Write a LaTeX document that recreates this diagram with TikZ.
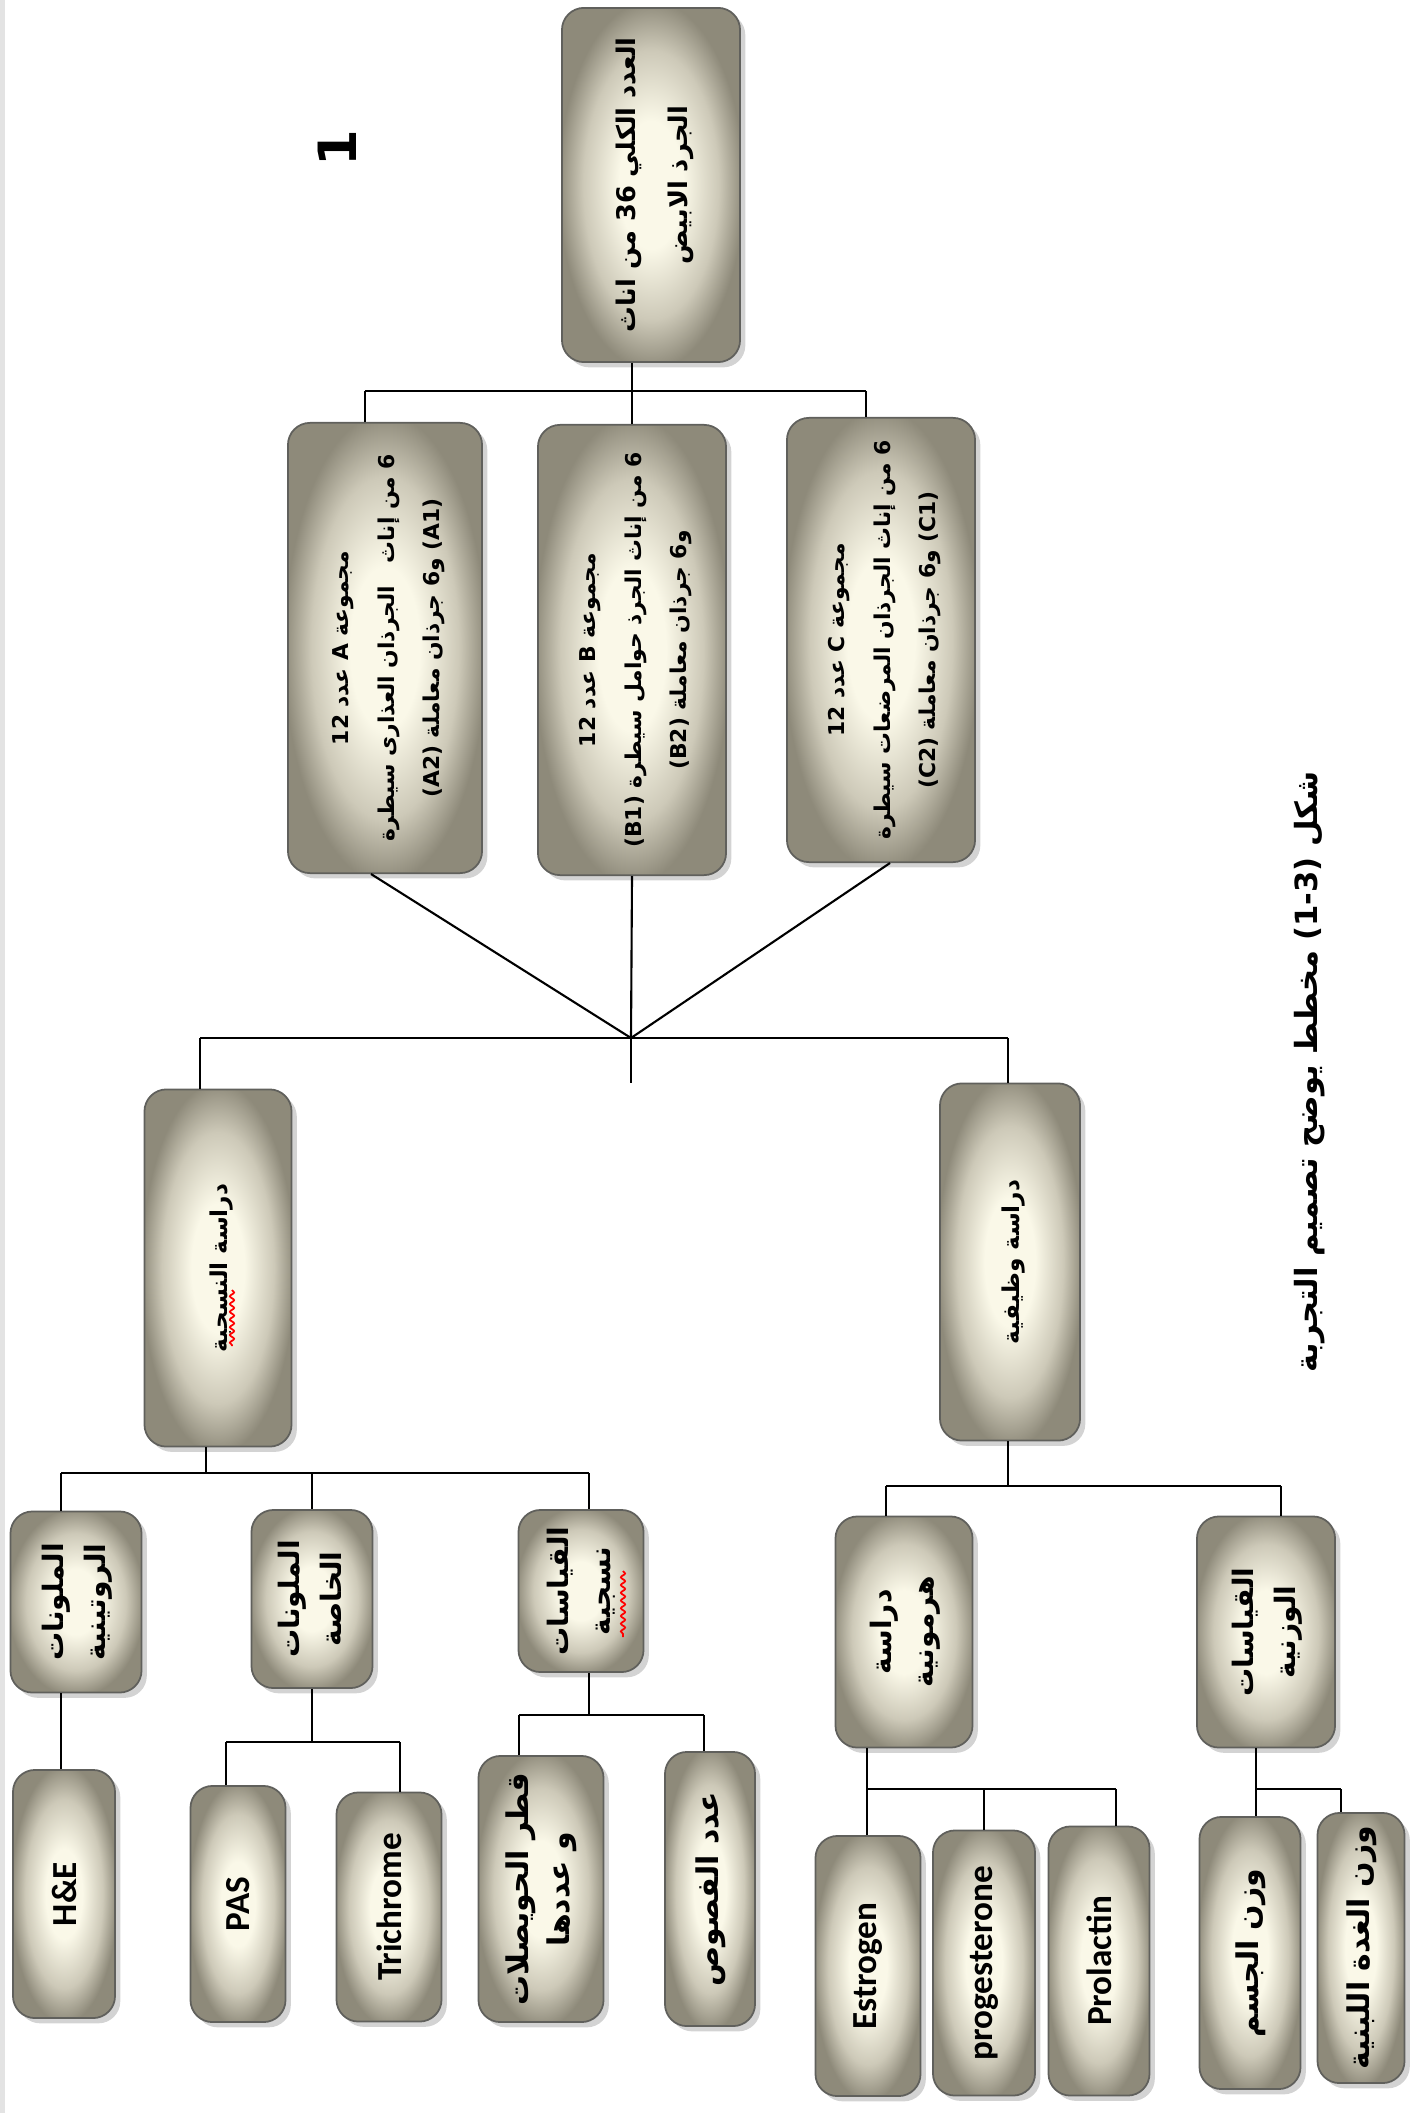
\documentclass[tikz,border=0pt]{standalone}
\usepackage{fontspec}
\usepackage{graphicx}
\setmainfont{Carlito}
\newfontfamily\arabicfont[Script=Arabic]{DejaVu Sans}
\newfontfamily\latinfont{DejaVu Sans}
\TeXXeTstate=1
\usetikzlibrary{positioning, shadows, calc, decorations.pathmorphing}

\definecolor{boxcream}{RGB}{250,248,232}
\definecolor{boxmid}{RGB}{205,201,184}
\definecolor{boxedge}{RGB}{142,138,122}
\definecolor{boxline}{RGB}{96,96,92}
\pgfdeclareradialshading{boxshade}{\pgfpoint{0bp}{0bp}}{color(0bp)=(boxcream); color(9bp)=(boxcream); color(19bp)=(boxmid); color(26bp)=(boxedge); color(50bp)=(boxedge)}

\newcommand{\ar}[1]{\beginR #1\endR}
\newcommand{\lat}[1]{\beginL{\latinfont #1}\endL}
\newcommand{\vtext}[1]{\rotatebox{90}{\begin{tabular}{@{}c@{}}#1\end{tabular}}}

\tikzset{
  block/.style={draw=boxline, line width=0.5pt, rounded corners=0.22cm, shade, shading=boxshade,
    drop shadow={shadow xshift=1.5pt, shadow yshift=-1.5pt, opacity=0.35}, inner sep=0pt},
  arroot/.style={font=\arabicfont\bfseries\fontsize{7.3}{15}\selectfont},
  argroup/.style={font=\arabicfont\bfseries\fontsize{6.2}{13}\selectfont},
  arstudy/.style={font=\arabicfont\bfseries\fontsize{6.6}{13}\selectfont},
  armid/.style={font=\arabicfont\bfseries\fontsize{8}{12}\selectfont},
  arleaf/.style={font=\arabicfont\bfseries\fontsize{8.5}{11.5}\selectfont},
  entext/.style={font=\bfseries\fontsize{10}{12}\selectfont},
  link/.style={line width=0.6pt},
  spell/.style={red, line width=0.5pt, decorate, decoration={snake, amplitude=0.6pt, segment length=2.2pt}}
}

\begin{document}
\begin{tikzpicture}[x=0.01cm, y=-0.01cm]
\useasboundingbox (0,0) rectangle (1422,2113);
\fill[gray!22] (0,0) rectangle (5,2113);

% root and groups
\node[block, arroot, minimum width=1.78cm, minimum height=3.54cm] (root) at (651,185) {\vtext{\ar{العدد الكلي 36 من اناث}\\ \ar{الجرذ الابيض}}};
\node[font=\latinfont\bfseries\fontsize{15}{15}\selectfont] (pgnum) at (337,148) {\rotatebox{90}{1}};

\node[block, argroup, minimum width=1.94cm, minimum height=4.5cm] (A) at (385,648) {\vtext{\ar{مجموعة A عدد 12}\\ \ar{6 من إناث\ \ \ الجرذان العذارى سيطرة}\\ \ar{\lat{(A1)} و6 جرذان معاملة \lat{(A2)}}}};
\node[block, argroup, minimum width=1.88cm, minimum height=4.5cm] (B) at (632,650) {\vtext{\ar{مجموعة B عدد 12}\\ \ar{6 من إناث الجرذ حوامل سيطرة \lat{(B1)}}\\ \ar{و6 جرذان معاملة \lat{(B2)}}}};
\node[block, argroup, minimum width=1.88cm, minimum height=4.44cm] (C) at (881,640) {\vtext{\ar{مجموعة C عدد 12}\\ \ar{6 من إناث الجرذان المرضعات سيطرة}\\ \ar{\lat{(C1)} و6 جرذان معاملة \lat{(C2)}}}};

% studies
\node[block, arstudy, minimum width=1.47cm, minimum height=3.57cm] (histo) at (218,1268) {\vtext{\ar{دراسة النسجية}}};
\node[block, arstudy, minimum width=1.4cm, minimum height=3.57cm] (func) at (1010,1262) {\vtext{\ar{دراسة وظيفية}}};

% histology branches
\node[block, armid, minimum width=1.31cm, minimum height=1.81cm] (H1) at (76,1602) {\vtext{\ar{الملونات}\\ \ar{الروتينية}}};
\node[block, armid, minimum width=1.21cm, minimum height=1.78cm] (H2) at (312,1599) {\vtext{\ar{الملونات}\\ \ar{الخاصة}}};
\node[block, armid, minimum width=1.25cm, minimum height=1.62cm] (H3) at (581,1591) {\vtext{\ar{القياسات}\\ \ar{نسجية}}};

% functional branches
\node[block, armid, minimum width=1.37cm, minimum height=2.31cm] (F1) at (904,1632) {\vtext{\ar{دراسة}\\ \ar{هرمونية}}};
\node[block, armid, minimum width=1.38cm, minimum height=2.31cm] (F2) at (1266,1632) {\vtext{\ar{القياسات}\\ \ar{الوزنية}}};

% leaves
\node[block, entext, minimum width=1.02cm, minimum height=2.48cm] (HE) at (64,1894) {\rotatebox{90}{H\&E}};
\node[block, entext, minimum width=0.95cm, minimum height=2.36cm] (PAS) at (238,1904) {\rotatebox{90}{PAS}};
\node[block, entext, minimum width=1.05cm, minimum height=2.29cm] (Tri) at (389,1907) {\rotatebox{90}{Trichrome}};
\node[block, arleaf, minimum width=1.25cm, minimum height=2.66cm] (diam) at (541,1889) {\vtext{\ar{قطر الحويصلات}\\ \ar{و عددها}}};
\node[block, arleaf, minimum width=0.9cm, minimum height=2.74cm] (lobe) at (710,1889) {\vtext{\ar{عدد الفصوص}}};
\node[block, entext, minimum width=1.05cm, minimum height=2.6cm] (est) at (868,1966) {\rotatebox{90}{Estrogen}};
\node[block, entext, minimum width=1.02cm, minimum height=2.65cm] (prog) at (984,1963) {\rotatebox{90}{progesterone}};
\node[block, entext, minimum width=1.01cm, minimum height=2.69cm] (prl) at (1099,1961) {\rotatebox{90}{Prolactin}};
\node[block, arleaf, minimum width=1.01cm, minimum height=2.72cm] (body) at (1250,1953) {\vtext{\ar{وزن الجسم}}};
\node[block, arleaf, minimum width=0.87cm, minimum height=2.7cm] (gland) at (1361,1948) {\vtext{\ar{وزن الغدة اللبنية}}};

\node[font=\arabicfont\bfseries\fontsize{8.7}{11}\selectfont] (caption) at (1310,1072) {\rotatebox{90}{\ar{شكل \lat{(1-3)} مخطط يوضح تصميم التجربة}}};

% connectors
\coordinate (gL) at (365,391);
\coordinate (gR) at (866,391);
\draw[link] (gL) -- (gR);
\draw[link] (root.south -| B.north) -- (B.north);
\draw[link] (gL) -- (gL |- A.north);
\draw[link] (gR) -- (gR |- C.north);

\coordinate (hub) at (631,1038);
\coordinate (sL) at (200,1038);
\coordinate (sR) at (1008,1038);
\draw[link] ($(A.south)+(-14,0)$) -- (hub);
\draw[link] (B.south) -- (hub);
\draw[link] ($(C.south)+(9,0)$) -- (hub);
\draw[link] (sL) -- (sR);
\draw[link] (sL) -- (sL |- histo.north);
\draw[link] (sR) -- (sR |- func.north);
\draw[link] (hub) -- (hub |- func.north);

\coordinate (hT) at (206,1473);
\coordinate (hL) at (61,1473);
\coordinate (hR) at (589,1473);
\draw[link] (hT |- histo.south) -- (hT);
\draw[link] (hL) -- (hR);
\draw[link] (hL) -- (hL |- H1.north);
\draw[link] (H2.north |- hL) -- (H2.north);
\draw[link] (hR) -- (hR |- H3.north);

\coordinate (fL) at (886,1486);
\coordinate (fR) at (1281,1486);
\draw[link] (func.south -| sR) -- (sR |- fL);
\draw[link] (fL) -- (fR);
\draw[link] (fL) -- (fL |- F1.north);
\draw[link] (fR) -- (fR |- F2.north);

\draw[link] (hL |- H1.south) -- (hL |- HE.north);

\coordinate (pL) at (226,1742);
\coordinate (pR) at (400,1742);
\draw[link] (H2.south) -- (H2.south |- pL);
\draw[link] (pL) -- (pR);
\draw[link] (pL) -- (pL |- PAS.north);
\draw[link] (pR) -- (pR |- Tri.north);

\coordinate (dL) at (519,1715);
\coordinate (dR) at (704,1715);
\draw[link] (hR |- H3.south) -- (hR |- dL);
\draw[link] (dL) -- (dR);
\draw[link] (dL) -- (dL |- diam.north);
\draw[link] (dR) -- (dR |- lobe.north);

\coordinate (eL) at (867,1789);
\coordinate (eR) at (1116,1789);
\draw[link] (eL |- F1.south) -- (eL);
\draw[link] (eL) -- (eR);
\draw[link] (eL) -- (eL |- est.north);
\draw[link] (prog.north |- eL) -- (prog.north);
\draw[link] (eR) -- (eR |- prl.north);

\coordinate (wL) at (1256,1789);
\coordinate (wR) at (1341,1789);
\draw[link] (wL |- F2.south) -- (wL);
\draw[link] (wL) -- (wR);
\draw[link] (wL) -- (wL |- body.north);
\draw[link] (wR) -- (wR |- gland.north);

% spelling marks
\draw[spell] ($(histo.center)+(14,22)$) -- ($(histo.center)+(14,78)$);
\draw[spell] ($(H3.center)+(42,-20)$) -- ($(H3.center)+(42,46)$);
\end{tikzpicture}
\end{document}
